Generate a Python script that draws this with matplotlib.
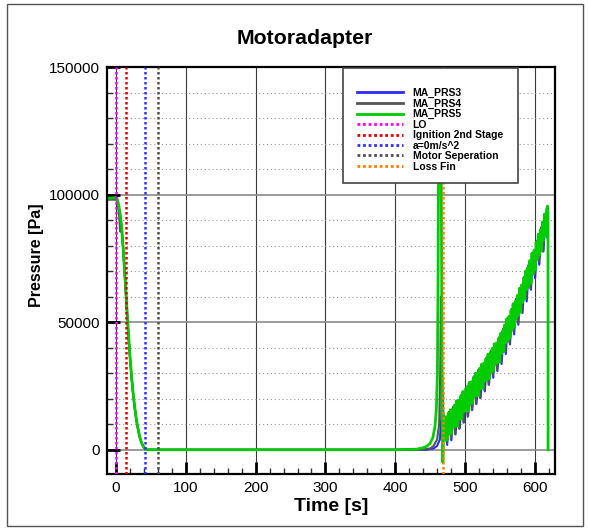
import matplotlib
matplotlib.use("Agg")
import matplotlib.pyplot as plt
from matplotlib.patches import Rectangle
from matplotlib.ticker import MultipleLocator

plt.rcParams['font.family'] = ['Liberation Sans', 'DejaVu Sans']

# ---------------- data ----------------
# descent phase + near-zero phase + spike
green_t_pre = [-13, 0, 2, 4, 6, 8, 10, 12, 14, 16, 18, 20, 22, 24, 26, 28, 30, 32, 34, 36, 38, 40, 42, 44, 46,
               100, 200, 300, 400, 430, 438, 445, 450, 454, 457, 459, 460.5, 461.5, 462.5, 464, 465.5, 466.5,
               467.5, 468.2, 469]
green_p_pre = [98500, 98800, 98000, 95500, 92000, 87500, 80000, 71000, 62000, 53000, 44500, 36500, 29500,
               23500, 18500, 14000, 10500, 7500, 5000, 3200, 1900, 1000, 400, 100, 0,
               0, 0, 0, 0, 200, 600, 1300, 2500, 4800, 9000, 16000, 30000, 70000, 140000, 170000, 140000,
               70000, 10000, -5000, 3000]

gray_t_pre = [-13, 0, 2, 4, 5, 6, 7, 8, 10, 12, 14, 16, 18, 20, 22, 24, 26, 28, 30, 32, 34, 36, 38, 40, 42, 44,
              46, 100, 200, 300, 400, 440, 450, 455, 460, 463, 464.5, 465.5, 466.5, 468, 469.5]
gray_p_pre = [98000, 98000, 97000, 93000, 89000, 85500, 88000, 86000, 79000, 70500, 61500, 52500, 44000,
              36000, 29000, 23000, 18000, 13700, 10200, 7300, 4900, 3100, 1800, 900, 350, 80,
              0, 0, 0, 0, 0, 100, 500, 1500, 4000, 10000, 30000, 60000, 40000, 20000, 12000]

blue_t_pre = [-13, 0, 2, 4, 6, 8, 10, 12, 14, 16, 18, 20, 22, 24, 26, 28, 30, 32, 34, 36, 38, 40, 42, 44, 46,
              100, 200, 300, 400, 445, 455, 460, 464, 466, 467, 468, 470]
blue_p_pre = [98500, 98700, 97800, 95000, 91500, 87000, 79500, 70500, 61500, 52500, 44000, 36000, 29000,
              23000, 18000, 13700, 10200, 7300, 4900, 3100, 1800, 900, 350, 80, 0,
              0, 0, 0, 0, 0, 500, 1500, 4000, 12000, 25000, 15000, 5000]

# oscillating re-pressurisation phase
green_t_osc = [470, 471.5, 473, 474.5, 476, 477.5, 479, 480.5, 482, 483.5, 485, 486.5, 488, 489.5, 491, 492.5,
               494, 495.5, 497, 498.5, 500, 501.5, 503, 504.5, 506, 507.5, 509, 510.5, 512, 513.5, 515, 516.5,
               518, 519.5, 521, 522.5, 524, 525.5, 527, 528.5, 530, 531.5, 533, 534.5, 536, 537.5, 539, 540.5,
               542, 543.5, 545, 546.5, 548, 549.5, 551, 552.5, 554, 555.5, 557, 558.5, 560, 561.5, 563, 564.5,
               566, 567.5, 569, 570.5, 572, 573.5, 575, 576.5, 578, 579.5, 581, 582.5, 584, 585.5, 587, 588.5,
               590, 591.5, 593, 594.5, 596, 597.5, 599, 600.5, 602, 603.5, 605, 606.5, 608, 609.5, 611, 612.5,
               614, 615.5, 617, 618.3, 619, 619.1]
green_p_osc = [13000, 3950, 12900, 3850, 14300, 6250, 15700, 6200, 15800, 8900, 17500, 9100, 19200, 9300,
               19400, 12000, 21100, 12200, 22800, 14900, 23000, 15100, 24700, 15300, 26400, 18000, 26600, 18200,
               28300, 20900, 30000, 21100, 30200, 21300, 31900, 24000, 33600, 24200, 33900, 27000, 35700, 27400,
               37500, 27700, 37800, 30500, 39700, 30800, 41500, 33600, 41800, 34000, 43600, 34300, 45600, 37600,
               46600, 38500, 49000, 41900, 51400, 42900, 52300, 43800, 54700, 47200, 57200, 48100, 58100, 51500,
               60500, 52600, 63300, 53900, 64600, 57700, 67300, 59000, 70100, 62800, 71400, 64000, 74200, 65300,
               77000, 69100, 78200, 70400, 81300, 74600, 84500, 76300, 86100, 78000, 89300, 82100, 92400, 83800,
               94100, 95500, 93000, 0]

blue_t_osc = [471.5, 474.5, 477.5, 480.5, 483.5, 486.5, 489.5, 492.5, 495.5, 498.5, 501.5, 504.5, 507.5, 510.5,
              513.5, 516.5, 519.5, 522.5, 525.5, 528.5, 531.5, 534.5, 537.5, 540.5, 543.5, 546.5, 549.5, 552.5,
              555.5, 558.5, 561.5, 564.5, 567.5, 570.5, 573.5, 576.5, 579.5, 582.5, 585.5, 588.5, 591.5, 594.5,
              597.5, 600.5, 603.5, 606.5, 609.5, 612.5, 615.5, 618.0]
blue_p_osc = [12000, 1900, 13800, 3700, 15800, 6000, 18200, 8400, 20600, 10800, 23000, 13200, 25400, 15600,
              27800, 18000, 30200, 20400, 32600, 22900, 35200, 25500, 37800, 28200, 40500, 30800, 43100, 33600,
              46500, 37500, 50400, 41300, 54200, 45200, 58100, 49000, 62300, 53600, 66800, 58100, 71400, 62700,
              76000, 67200, 80800, 72500, 86100, 77800, 91400, 83100]

gray_t_osc = [470.8, 473.8, 476.8, 479.8, 482.8, 485.8, 488.8, 491.8, 494.8, 497.8, 500.8, 503.8, 506.8, 509.8,
              512.8, 515.8, 518.8, 521.8, 524.8, 527.8, 530.8, 533.8, 536.8, 539.8, 542.8, 545.8, 548.8, 551.8,
              554.8, 557.8, 560.8, 563.8, 566.8, 569.8, 572.8, 575.8, 578.8, 581.8, 584.8, 587.8, 590.8, 593.8,
              596.8, 599.8, 602.8, 605.8, 608.8, 611.8, 614.8, 617.8]
gray_p_osc = [13000, 3000, 14800, 4700, 16800, 6200, 19200, 8200, 21600, 10600, 24000, 12900, 26400, 15600,
              28800, 18000, 31200, 20200, 33600, 23400, 36200, 25500, 38800, 29200, 41500, 31300, 44100, 34600,
              47500, 38500, 51400, 41900, 55200, 46200, 59100, 49500, 63300, 53800, 67800, 59100, 72400, 63200,
              77000, 68700, 81800, 74000, 87100, 77600, 92400, 83900]

series_names = ['MA_PRS3', 'MA_PRS4', 'MA_PRS5']
series_colors = ['#2a2aff', '#555555', '#00cc00']

event_names = ['LO', 'Ignition 2nd Stage', 'a=0m/s^2', 'Motor Seperation', 'Loss Fin']
event_times = [0, 14, 42, 60, 468]
event_colors = ['#ff00ff', '#e00000', '#3030ff', '#505050', '#ff7f00']

x_ticks = [0, 100, 200, 300, 400, 500, 600]
y_ticks = [0, 50000, 100000, 150000]

# ---------------- figure ----------------
W, H = 589, 530
fig = plt.figure(figsize=(W / 100, H / 100), dpi=100)
ax = fig.add_axes([107 / W, 1 - 474 / H, (555 - 107) / W, (474 - 67) / H])

blue_t = blue_t_pre + blue_t_osc
blue_p = blue_p_pre + blue_p_osc
gray_t = gray_t_pre + gray_t_osc
gray_p = gray_p_pre + gray_p_osc
green_t = green_t_pre + green_t_osc
green_p = green_p_pre + green_p_osc

ax.plot(blue_t, blue_p, color=series_colors[0], lw=1.5, label=series_names[0], zorder=2)
ax.plot(gray_t, gray_p, color=series_colors[1], lw=1.5, label=series_names[1], zorder=2.1)
ax.plot(green_t, green_p, color=series_colors[2], lw=2.0, label=series_names[2], zorder=2.2)

for name, t, c in zip(event_names, event_times, event_colors):
    ax.axvline(t, color=c, lw=1.8, linestyle=(0, (1, 1)), label=name, zorder=3)

ax.set_xlim(-13, 629)
ax.set_ylim(-9500, 150000)
ax.set_xticks(x_ticks)
ax.set_yticks(y_ticks)
ax.xaxis.set_minor_locator(MultipleLocator(20))
ax.yaxis.set_minor_locator(MultipleLocator(10000))

ax.grid(False)
ax.xaxis.grid(True, which='major', color='#3a3a3a', lw=0.8, zorder=0)
ax.yaxis.grid(True, which='major', color='#8a8a8a', lw=1.2, zorder=0)
ax.yaxis.grid(True, which='minor', color='#9a9a9a', lw=0.8, linestyle=(0, (1, 2.5)), zorder=0)
ax.set_axisbelow(True)

ax.tick_params(which='major', direction='in', length=9, width=2, labelsize=11, pad=5, colors='black')
ax.tick_params(which='minor', direction='in', length=4.5, width=1, colors='#333333')
ax.tick_params(axis='both', top=False, right=False)
for sp in ax.spines.values():
    sp.set_linewidth(1.6)
    sp.set_color('black')

ax.set_xlabel('Time [s]', fontsize=14, fontweight='bold', labelpad=2)
ax.set_ylabel('Pressure [Pa]', fontsize=11.6, fontweight='bold')
ax.yaxis.set_label_coords(-0.14, 0.538)
fig.text(305 / W, 1 - 38 / H, 'Motoradapter', fontsize=15.3, fontweight='bold', ha='center', va='center')

# legend box
box = Rectangle((343 / W, 1 - 183 / H), (518 - 343) / W, (183 - 68) / H, transform=fig.transFigure,
                facecolor='white', edgecolor='#444444', lw=1.2, zorder=4, clip_on=False)
ax.add_patch(box)
leg = ax.legend(loc='upper left', bbox_to_anchor=(357 / W, 1 - 88 / H), bbox_transform=fig.transFigure,
                frameon=False, borderpad=0, borderaxespad=0, handlelength=4.4, handletextpad=0.95,
                labelspacing=0.045, prop={'size': 7.5, 'weight': 'bold'})
leg.set_zorder(5)
for h in leg.get_lines():
    h.set_linewidth(2)

# outer frame
fig.add_artist(Rectangle((7 / W, 1 - 526 / H), (583 - 7) / W, (526 - 4) / H, transform=fig.transFigure,
                         fill=False, edgecolor='#555555', lw=1))

fig.savefig('out.png', dpi=100)
